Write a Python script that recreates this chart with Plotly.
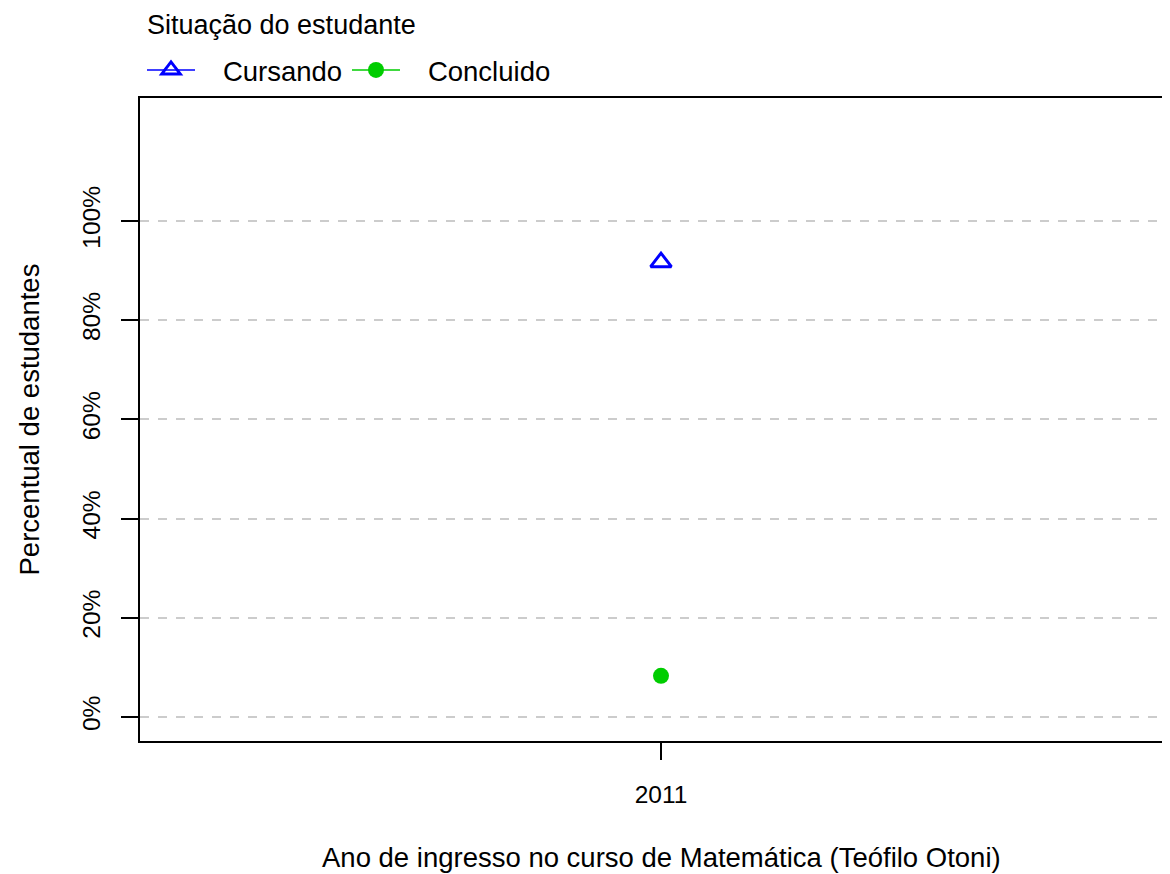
import plotly.graph_objects as go

anos = [2011]
cursando = [91.7]
concluido = [8.3]
series_names = ["Cursando", "Concluido"]
y_ticks = [0, 20, 40, 60, 80, 100]
y_ticklabels = ["0%", "20%", "40%", "60%", "80%", "100%"]

FONT = "Liberation Sans, Arial, Helvetica, sans-serif"
OFF = 8  # page body margin
W, H = 1170, 874 - OFF
L, R, T, B = 140 - OFF, 0, 98 - OFF, 133
pw = W - L - R
ph = H - T - B

def px_x(x):
    return (x - OFF - L) / pw

def px_y(y):
    return (H - B - (y - OFF)) / ph

NB = "\u00a0"

# x range chosen so that the 2011 tick sits at page x = 661
x_lo = 2011 - (661 - 140) / 521
x_hi = 2011 + (OFF + L + pw - 661) / 521

fig = go.Figure()
fig.add_trace(go.Scatter(
    x=anos, y=cursando, name=NB * 3 + series_names[0], mode="lines+markers",
    line=dict(color="#0000FF", width=1.5),
    marker=dict(symbol="triangle-up-open", size=18, color="#0000FF",
                line=dict(color="#0000FF", width=3)),
))
fig.add_trace(go.Scatter(
    x=anos, y=concluido, name=NB * 3 + series_names[1], mode="lines+markers",
    line=dict(color="#00CD00", width=1.5),
    marker=dict(symbol="circle", size=16, color="#00CD00"),
))

fig.update_layout(
    width=W, height=H,
    margin=dict(l=L, r=R, t=T, b=B, pad=0),
    paper_bgcolor="white", plot_bgcolor="white",
    font=dict(family=FONT, size=24, color="black"),
    showlegend=True,
    legend=dict(orientation="h", x=px_x(142), y=px_y(70), xanchor="left", yanchor="middle",
                font=dict(size=27.5, family=FONT, color="black"),
                bgcolor="rgba(0,0,0,0)", itemwidth=48, tracegroupgap=0,
                entrywidth=142, entrywidthmode="pixels"),
    xaxis=dict(range=[x_lo, x_hi], tickvals=anos, ticktext=[str(a) for a in anos],
               showgrid=False, zeroline=False, showline=True, mirror=True,
               linecolor="black", linewidth=1.5, ticks="outside", ticklen=17,
               tickcolor="black", tickwidth=1.5, ticklabelstandoff=14,
               tickfont=dict(size=24.5, family=FONT, color="black")),
    yaxis=dict(range=[-4.84, 124.8], tickvals=y_ticks, ticktext=y_ticklabels,
               tickangle=-90, showgrid=True, gridcolor="#CCCCCC", griddash="dash",
               gridwidth=1.5, zeroline=False, showline=True, mirror=False,
               linecolor="black", linewidth=1.5, ticks="outside", ticklen=17,
               tickcolor="black", tickwidth=1.5, ticklabelstandoff=11,
               tickfont=dict(size=24.5, family=FONT, color="black")),
    annotations=[
        dict(text="Percentual de estudantes", x=px_x(29), y=0.5, xref="paper", yref="paper",
             textangle=-90, showarrow=False, xanchor="center", yanchor="middle",
             font=dict(size=27.5, family=FONT, color="black")),
        dict(text="Ano de ingresso no curso de Matemática (Teófilo Otoni)", x=px_x(661),
             y=px_y(857), xref="paper", yref="paper", showarrow=False,
             xanchor="center", yanchor="middle", font=dict(size=27.5, family=FONT, color="black")),
        dict(text="Situação do estudante", x=px_x(145), y=px_y(25), xref="paper", yref="paper",
             showarrow=False, xanchor="left", yanchor="middle",
             font=dict(size=27, family=FONT, color="black")),
    ],
)

fig.write_html("out.html")
